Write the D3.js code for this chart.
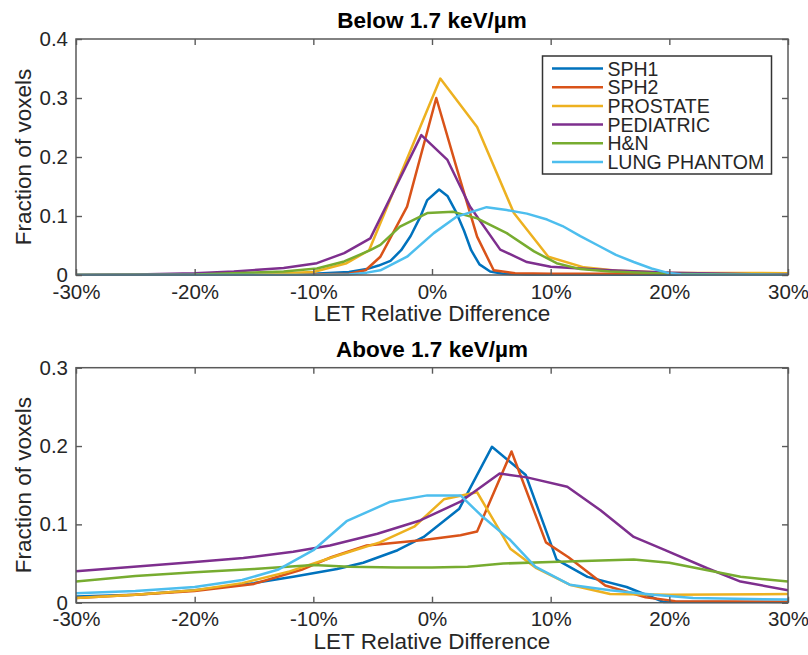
<!DOCTYPE html>
<html>
<head>
<meta charset="utf-8">
<script src="https://cdn.jsdelivr.net/npm/d3@7"></script>
<style>
  html, body { margin: 0; padding: 0; background: #fff; }
  svg { display: block; font-family: "Liberation Sans", Arial, Helvetica, sans-serif; }
</style>
</head>
<body>
<svg id="chart" width="808" height="655"></svg>
<script>
// ---------- data ----------
const seriesNames = ["SPH1", "SPH2", "PROSTATE", "PEDIATRIC", "H&N", "LUNG PHANTOM"];
const seriesColors = ["#0072BD", "#D95319", "#EDB120", "#7E2F8E", "#77AC30", "#4DBEEE"];
const xTickValues = [-30, -20, -10, 0, 10, 20, 30];
const belowYTicks = [0, 0.1, 0.2, 0.3, 0.4];
const aboveYTicks = [0, 0.1, 0.2, 0.3];
const belowTitle = "Below 1.7 keV/\u00b5m";
const aboveTitle = "Above 1.7 keV/\u00b5m";
const xLabel = "LET Relative Difference";
const yLabel = "Fraction of voxels";

// Below 1.7 keV/um
const belowSPH1X = [-30,-15,-10,-7,-5.5,-4.5,-3.5,-2.6,-1.8,-1.0,-0.4,0.6,1.3,2.0,2.7,3.3,4.0,4.9,6,8,30];
const belowSPH1Y = [0,0.001,0.002,0.005,0.010,0.016,0.024,0.042,0.066,0.098,0.127,0.145,0.134,0.108,0.075,0.042,0.018,0.006,0.002,0.001,0];
const belowSPH2X = [-30,-10,-7,-5.6,-4.35,-2.1,0.36,2.1,3.8,5.2,7,10,20,30];
const belowSPH2Y = [0,0.001,0.002,0.008,0.031,0.116,0.300,0.180,0.065,0.008,0.003,0.002,0.002,0.003];
const belowProstateX = [-30,-15,-10,-7.2,-5.3,0.7,3.8,6.9,9.8,12.8,15.8,20,30];
const belowProstateY = [0,0.001,0.005,0.020,0.042,0.333,0.251,0.105,0.031,0.013,0.007,0.004,0.003];
const belowPediatricX = [-30,-25,-20,-16.7,-12.5,-9.7,-7.4,-5.2,-0.9,1.3,3.2,5.75,8,10,12.5,15,20,25,28,30];
const belowPediatricY = [0,0.001,0.003,0.006,0.012,0.020,0.037,0.062,0.237,0.195,0.116,0.043,0.022,0.014,0.011,0.008,0.004,0.002,0.001,0.001];
const belowHNX = [-30,-20,-12.5,-9.7,-7.4,-5.2,-4.35,-2.7,-0.4,1.8,3.8,6.3,8.6,10.5,12.5,15,20,25,30];
const belowHNY = [0,0.001,0.006,0.011,0.023,0.042,0.051,0.082,0.105,0.107,0.096,0.071,0.040,0.020,0.010,0.006,0.002,0.001,0];
const belowLungX = [-30,-10,-7,-5.5,-4.35,-2.1,0.15,2.1,4.6,6.3,8,9.7,11,12.5,14,15.5,17,18.5,19.8,21,30];
const belowLungY = [0,0,0.001,0.004,0.008,0.031,0.071,0.099,0.115,0.110,0.104,0.094,0.083,0.066,0.050,0.034,0.022,0.011,0.004,0.001,0];

// Above 1.7 keV/um
const aboveSPH1X = [-30,-25,-20,-15,-11.7,-8,-5.8,-2.9,-0.7,2.3,5.05,7.9,10.5,13.1,16.4,18.7,19.5,30];
const aboveSPH1Y = [0.008,0.010,0.016,0.025,0.033,0.043,0.051,0.067,0.084,0.120,0.199,0.163,0.055,0.033,0.020,0.006,0.001,0.001];
const aboveSPH2X = [-30,-25,-20,-15,-11,-8.5,-5.5,-0.7,2.4,3.8,6.7,9.6,11.5,14.6,18,20.5,30];
const aboveSPH2Y = [0.006,0.010,0.015,0.024,0.042,0.058,0.073,0.080,0.086,0.091,0.193,0.077,0.058,0.022,0.007,0.002,0.001];
const aboveProstateX = [-30,-25,-20,-16,-12,-8,-4.4,-1.5,1,3.8,6.6,8.8,11.6,15,20,30];
const aboveProstateY = [0.006,0.010,0.016,0.025,0.040,0.060,0.077,0.097,0.132,0.141,0.069,0.044,0.023,0.011,0.010,0.011];
const abovePediatricX = [-30,-20,-15.9,-11.7,-8.6,-4.6,-1,2.4,5.7,8,11.4,14.2,17,19.5,23.2,26,30];
const abovePediatricY = [0.040,0.052,0.057,0.065,0.073,0.088,0.105,0.129,0.165,0.160,0.148,0.118,0.084,0.068,0.044,0.027,0.016];
const aboveHNX = [-30,-25,-20,-15,-10,-7,-3,0,3,6,10,17,20,23,26,30];
const aboveHNY = [0.027,0.034,0.039,0.043,0.048,0.046,0.045,0.045,0.046,0.050,0.052,0.055,0.051,0.042,0.033,0.027];
const aboveLungX = [-30,-25,-20,-16,-13,-10,-7.2,-3.5,-0.4,2.4,4.1,6.6,8.7,11.6,15,18.7,22,30];
const aboveLungY = [0.012,0.015,0.020,0.029,0.042,0.067,0.104,0.129,0.137,0.137,0.112,0.080,0.046,0.023,0.016,0.010,0.006,0.004];

const belowSeries = [
  [belowSPH1X, belowSPH1Y], [belowSPH2X, belowSPH2Y], [belowProstateX, belowProstateY],
  [belowPediatricX, belowPediatricY], [belowHNX, belowHNY], [belowLungX, belowLungY]
];
const aboveSeries = [
  [aboveSPH1X, aboveSPH1Y], [aboveSPH2X, aboveSPH2Y], [aboveProstateX, aboveProstateY],
  [abovePediatricX, abovePediatricY], [aboveHNX, aboveHNY], [aboveLungX, aboveLungY]
];

// ---------- drawing ----------
const svg = d3.select("#chart");
const axisColor = "#5a5a5a";
const textColor = "#262626";
const tickFont = 20.5;
const labelFont = 22.5;

function panel(cfg) {
  const { left, right, top, bottom, yMax, yTicks, series, title, legend } = cfg;
  const x = d3.scaleLinear().domain([-30, 30]).range([left, right]);
  const y = d3.scaleLinear().domain([0, yMax]).range([bottom, top]);
  const g = svg.append("g");

  const clipId = "clip" + Math.round(top);
  svg.append("clipPath").attr("id", clipId)
    .append("rect").attr("x", left).attr("y", top - 1).attr("width", right - left).attr("height", bottom - top + 2);
  const line = d3.line().x(d => x(d[0])).y(d => y(d[1]));
  const lg = g.append("g").attr("clip-path", `url(#${clipId})`);
  series.forEach((s, i) => {
    const pts = s[0].map((v, k) => [v, s[1][k]]);
    lg.append("path").datum(pts)
      .attr("d", line)
      .attr("fill", "none")
      .attr("stroke", seriesColors[i])
      .attr("stroke-width", 2.5)
      .attr("stroke-linejoin", "round");
  });

  const fmtX = d => d + "%";
  const fmtY = d => d === 0 ? "0" : d3.format(".1f")(d);
  const bx = g.append("g").attr("transform", `translate(0,${bottom})`)
    .call(d3.axisBottom(x).tickValues(xTickValues).tickFormat(fmtX).tickSizeInner(-6).tickSizeOuter(0).tickPadding(9));
  const tx = g.append("g").attr("transform", `translate(0,${top})`)
    .call(d3.axisTop(x).tickValues(xTickValues).tickFormat("").tickSizeInner(-6).tickSizeOuter(0));
  const ly = g.append("g").attr("transform", `translate(${left},0)`)
    .call(d3.axisLeft(y).tickValues(yTicks).tickFormat(fmtY).tickSizeInner(-6).tickSizeOuter(0).tickPadding(8));
  const ry = g.append("g").attr("transform", `translate(${right},0)`)
    .call(d3.axisRight(y).tickValues(yTicks).tickFormat("").tickSizeInner(-6).tickSizeOuter(0));
  [bx, tx, ly, ry].forEach(a => {
    a.select(".domain").remove();
    a.selectAll("line").attr("stroke", axisColor).attr("stroke-width", 1.4);
    a.selectAll("text").attr("fill", textColor).attr("font-size", tickFont)
      .attr("font-family", '"Liberation Sans", Arial, Helvetica, sans-serif');
  });

  g.append("rect").attr("x", left).attr("y", top).attr("width", right - left).attr("height", bottom - top)
    .attr("fill", "none").attr("stroke", axisColor).attr("stroke-width", 1.5);

  g.append("text").attr("x", (left + right) / 2).attr("y", top - 11)
    .attr("text-anchor", "middle").attr("font-weight", "bold").attr("font-size", labelFont)
    .attr("fill", "#000").text(title);
  g.append("text").attr("x", (left + right) / 2).attr("y", bottom + 46)
    .attr("text-anchor", "middle").attr("font-size", labelFont).attr("fill", textColor).text(xLabel);
  g.append("text").attr("transform", `translate(31,${(top + bottom) / 2}) rotate(-90)`)
    .attr("text-anchor", "middle").attr("font-size", labelFont).attr("fill", textColor).text(yLabel);

  if (legend) {
    const lx = 542.5, ly0 = 56, lw = 229, lh = 118;
    const lgd = g.append("g");
    lgd.append("rect").attr("x", lx).attr("y", ly0).attr("width", lw).attr("height", lh)
      .attr("fill", "#fff").attr("stroke", "#333").attr("stroke-width", 1.5);
    seriesNames.forEach((name, i) => {
      const cy = 68.5 + i * 18.7;
      lgd.append("line").attr("x1", 552).attr("x2", 603).attr("y1", cy).attr("y2", cy)
        .attr("stroke", seriesColors[i]).attr("stroke-width", 2.5);
      lgd.append("text").attr("x", 607.5).attr("y", cy + 7).attr("font-size", 19.5)
        .attr("fill", textColor).text(name);
    });
  }
}

panel({ left: 76, right: 788, top: 39, bottom: 275, yMax: 0.4, yTicks: belowYTicks,
        series: belowSeries, title: belowTitle, legend: true });
panel({ left: 76, right: 788, top: 367.7, bottom: 602.7, yMax: 0.3, yTicks: aboveYTicks,
        series: aboveSeries, title: aboveTitle, legend: false });
</script>
</body>
</html>
